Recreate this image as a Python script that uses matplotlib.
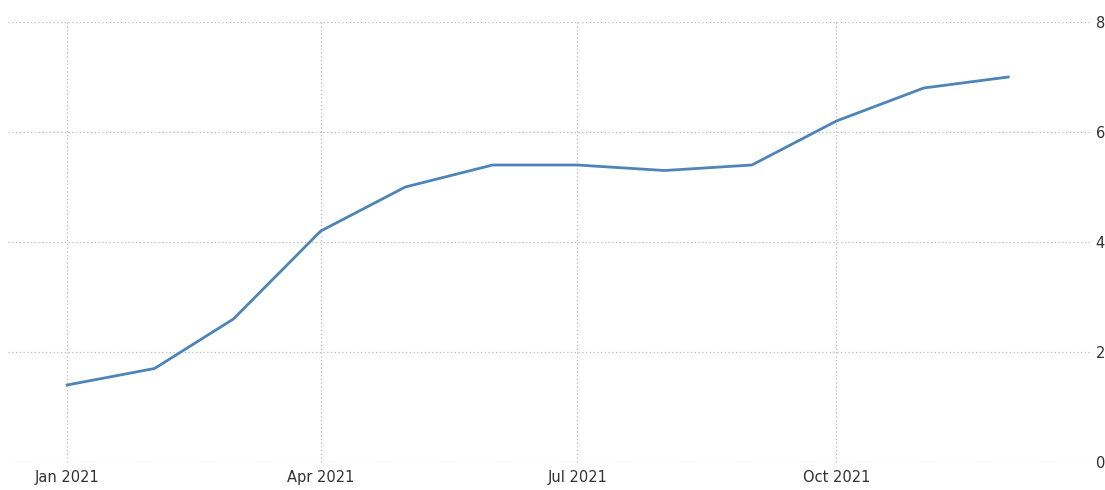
import matplotlib

matplotlib.use("Agg")
import matplotlib.dates as mdates
import matplotlib.pyplot as plt
import numpy as np

months = np.arange("2021-01", "2022-01", dtype="datetime64[M]").astype("datetime64[D]")
values = [1.4, 1.7, 2.6, 4.2, 5.0, 5.4, 5.4, 5.3, 5.4, 6.2, 6.8, 7.0]
y_ticks = [0, 2, 4, 6, 8]
x_ticks = np.array(["2021-01-01", "2021-04-01", "2021-07-01", "2021-10-01"], dtype="datetime64[D]")

fig = plt.figure(figsize=(11.05, 4.9), dpi=100)
ax = fig.add_axes([8 / 1105, 28 / 490, 1082 / 1105, 440 / 490])

ax.plot(months, values, color="#4d85b8", linewidth=2.0, solid_joinstyle="round")

ax.set_xlim(np.datetime64("2020-12-11"), np.datetime64("2021-12-30"))
ax.set_ylim(0, 8)
ax.set_yticks(y_ticks)
ax.set_xticks(x_ticks)
ax.xaxis.set_major_formatter(mdates.DateFormatter("%b %Y"))

ax.yaxis.tick_right()
ax.tick_params(axis="both", length=0, labelsize=10.5, labelcolor="#333333")
ax.tick_params(axis="y", pad=4)
ax.tick_params(axis="x", pad=6)

ax.grid(True, linestyle=(0, (1, 2)), color="#bbbbbb", linewidth=0.9)
for spine in ax.spines.values():
    spine.set_visible(False)

fig.savefig("out.png", dpi=100)
plt.close(fig)
